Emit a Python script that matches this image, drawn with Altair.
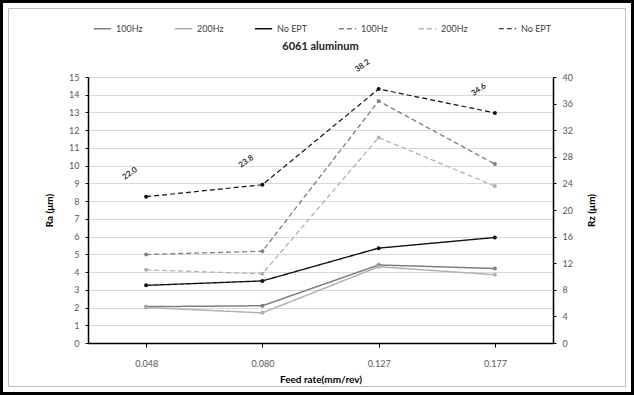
import altair as alt
import pandas as pd

feed = ["0.048", "0.080", "0.127", "0.177"]
ra_100 = [2.05, 2.1, 4.4, 4.2]
ra_200 = [2.0, 1.7, 4.3, 3.85]
ra_no = [3.25, 3.5, 5.35, 5.95]
rz_100 = [13.3, 13.8, 36.4, 26.9]
rz_200 = [11.0, 10.4, 30.9, 23.6]
rz_no = [22.0, 23.8, 38.2, 34.6]
rz_marks = ["22.0", "23.8", "38.2", "34.6"]

keys = ["Ra 100Hz", "Ra 200Hz", "Ra No EPT", "Rz 100Hz", "Rz 200Hz", "Rz No EPT"]
labels = ["100Hz", "200Hz", "No EPT", "100Hz", "200Hz", "No EPT"]
colors = ["#7f7f7f", "#b0b0b0", "#111111", "#7f7f7f", "#b0b0b0", "#111111"]
dashes = [[1, 0], [1, 0], [1, 0], [5, 3], [5, 3], [5, 3]]
widths = [1.5, 1.2, 2.2, 1.5, 1.2, 2.2]

ra_rows = []
for k, vals in zip(keys[:3], [ra_100, ra_200, ra_no]):
    for f, v in zip(feed, vals):
        ra_rows.append({"feed": f, "key": k, "val": v})
rz_rows = []
for k, vals in zip(keys[3:], [rz_100, rz_200, rz_no]):
    for f, v in zip(feed, vals):
        rz_rows.append({"feed": f, "key": k, "val": v, "txt": ""})
ra_df = pd.DataFrame(ra_rows)
rz_df = pd.DataFrame(rz_rows)
ann_df = pd.DataFrame({"feed": feed, "val": rz_no, "txt": rz_marks})

label_expr = " : ".join(
    [f"datum.value == '{k}' ? '{l}'" for k, l in zip(keys, labels)]
) + " : datum.value"

FONT = "Lato"

xenc = alt.X("feed:N", sort=feed, title="Feed rate(mm/rev)",
             scale=alt.Scale(paddingInner=0, paddingOuter=0.5),
             axis=alt.Axis(labelAngle=0, domainColor="#000", domainWidth=1.5,
                           tickColor="#000", tickSize=4, labelColor="#595959",
                           labelFontSize=9, labelPadding=12, titleFontSize=10,
                           titleFontWeight="bold", titlePadding=6, grid=False))

color = alt.Color("key:N", scale=alt.Scale(domain=keys, range=colors),
                  legend=alt.Legend(orient="none", legendX=5, legendY=-58,
                                    direction="horizontal", columns=6, title=None,
                                    labelExpr=label_expr, symbolType="stroke",
                                    symbolSize=300, labelFontSize=9,
                                    labelColor="#444", columnPadding=28,
                                    labelFont=FONT))
dash = alt.StrokeDash("key:N", scale=alt.Scale(domain=keys, range=dashes))
width = alt.StrokeWidth("key:N", scale=alt.Scale(domain=keys, range=widths))

ra_layer = alt.Chart(ra_df).mark_line(
    point=alt.OverlayMarkDef(size=16, filled=True)
).encode(
    x=xenc,
    y=alt.Y("val:Q", title="Ra (μm)", scale=alt.Scale(domain=[0, 15]),
            axis=alt.Axis(values=list(range(16)), orient="left", grid=True,
                          gridColor="#d9d9d9", domainColor="#000", domainWidth=1.5,
                          tickColor="#000", tickSize=3, labelColor="#595959",
                          labelFontSize=9, titleFontSize=10, titleFontWeight="bold",
                          titlePadding=14, labelPadding=6)),
    color=color, strokeDash=dash, strokeWidth=width,
)

rz_axis = alt.Axis(values=list(range(0, 41, 4)), orient="right", grid=False,
                   domainColor="#000", domainWidth=1.5, tickColor="#000",
                   tickSize=3, labelColor="#595959", labelFontSize=9,
                   titleFontSize=10, titleFontWeight="bold", titleAngle=270,
                   titlePadding=24, labelPadding=6)

rz_layer = alt.Chart(rz_df).mark_line(
    point=alt.OverlayMarkDef(size=16, filled=True)
).encode(
    x=xenc,
    y=alt.Y("val:Q", title="Rz (μm)", scale=alt.Scale(domain=[0, 40]), axis=rz_axis),
    color=color, strokeDash=dash, strokeWidth=width,
)

ann = alt.Chart(ann_df).mark_text(
    angle=325, dy=-28, fontSize=8, fontWeight="bold", color="#333", font=FONT
).encode(
    x=alt.X("feed:N", sort=feed),
    y=alt.Y("val:Q", title="Rz (μm)", scale=alt.Scale(domain=[0, 40]), axis=rz_axis),
    text="txt:N",
)

one = pd.DataFrame({"a": [0]})
outer = alt.Chart(one).mark_rect(
    fill=None, stroke="#000", strokeWidth=3, clip=False
).encode(x=alt.value(-86.5), x2=alt.value(544.5), y=alt.value(-75.5), y2=alt.value(316.5))
inner = alt.Chart(one).mark_rect(
    fill=None, stroke="#bfbfbf", strokeWidth=1, clip=False
).encode(x=alt.value(-79.5), x2=alt.value(537.5), y=alt.value(-68.5), y2=alt.value(309.5))
title = alt.Chart(one).mark_text(
    text="6061 aluminum", fontSize=11, fontWeight="bold", font=FONT, color="#222"
).encode(x=alt.value(232.5), y=alt.value(-30))

chart = alt.layer(
    ra_layer, alt.layer(rz_layer, ann), outer, inner, title
).resolve_scale(
    y="independent"
).properties(
    width=465, height=266,
    autosize=alt.AutoSizeParams(type="none"),
    padding={"left": 88, "top": 77, "right": 81, "bottom": 52},
).configure(
    font=FONT, background="white"
).configure_view(stroke=None)

chart.save("out.html", embed_options={"renderer": "svg", "actions": False})
